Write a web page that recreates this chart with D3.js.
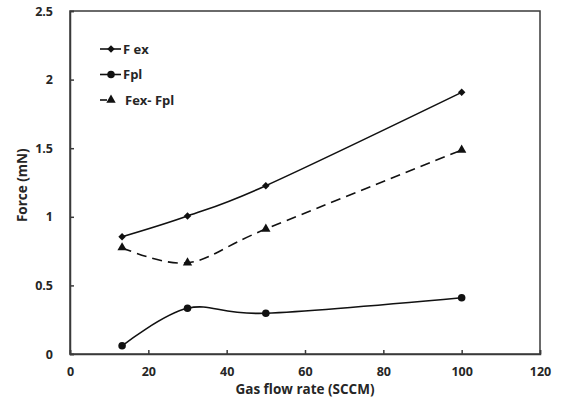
<!DOCTYPE html>
<html>
<head>
<meta charset="utf-8">
<script src="https://cdn.jsdelivr.net/npm/d3@7"></script>
<style>
  body { margin: 0; background: #fff; }
  text { font-family: "Open Sans", "Noto Sans", sans-serif; font-weight: bold; fill: #262626; }
</style>
</head>
<body>
<div id="chart"></div>
<script>
// Data
const flowRate = [13.3, 30, 50, 100];
const fex = [0.855, 1.006, 1.227, 1.907];
const fpl = [0.06, 0.333, 0.297, 0.41];
const fexFpl = [0.775, 0.665, 0.911, 1.487];

const xTicks = [0, 20, 40, 60, 80, 100, 120];
const yTicks = [0, 0.5, 1, 1.5, 2, 2.5];
const seriesNames = ["F ex", "Fpl", "Fex- Fpl"];

const W = 562, H = 404;
const margin = {top: 11, right: 22, bottom: 50, left: 70};
const width = W - margin.left - margin.right;
const height = H - margin.top - margin.bottom;

const svg = d3.select("#chart").append("svg")
    .attr("width", W)
    .attr("height", H);

const g = svg.append("g")
    .attr("transform", `translate(${margin.left},${margin.top})`);

const x = d3.scaleLinear().domain([0, 120]).range([0, width]);
const y = d3.scaleLinear().domain([0, 2.5]).range([height, 0]);

// Frame
g.append("rect")
    .attr("x", 0).attr("y", 0)
    .attr("width", width).attr("height", height)
    .attr("fill", "none")
    .attr("stroke", "#3a3a3a")
    .attr("stroke-width", 1.5);

// X axis, ticks pointing inward
const xAxis = g.append("g")
    .attr("transform", `translate(0,${height})`)
    .call(d3.axisBottom(x).tickValues(xTicks).tickSize(-4).tickPadding(13).tickFormat(d3.format("d")));
xAxis.select(".domain").attr("stroke", "#3a3a3a").attr("stroke-width", 1.5);
xAxis.selectAll(".tick line").attr("stroke", "#3a3a3a").attr("stroke-width", 1.5);
xAxis.selectAll("text").style("font-size", "12.5px").attr("fill", "#262626");

// Y axis, ticks pointing inward
const yAxis = g.append("g")
    .call(d3.axisLeft(y).tickValues(yTicks).tickSize(-4).tickPadding(17).tickFormat(d => d));
yAxis.select(".domain").attr("stroke", "#3a3a3a").attr("stroke-width", 1.5);
yAxis.selectAll(".tick line").attr("stroke", "#3a3a3a").attr("stroke-width", 1.5);
yAxis.selectAll("text").style("font-size", "12.5px").attr("fill", "#262626");

// Axis titles
svg.append("text")
    .attr("x", margin.left + x(60))
    .attr("y", 394)
    .attr("text-anchor", "middle")
    .style("font-size", "13.5px")
    .text("Gas flow rate (SCCM)");

svg.append("text")
    .attr("transform", `translate(27,${margin.top + y(1.23)}) rotate(-90)`)
    .attr("text-anchor", "middle")
    .style("font-size", "13.5px")
    .text("Force (mN)");

// Lines (Excel-style smoothing)
const line = d3.line()
    .x(d => x(d[0]))
    .y(d => y(d[1]))
    .curve(d3.curveCardinal.tension(0));

const series = [
    {name: seriesNames[0], values: fex, marker: d3.symbolSquare, size: 28, rot: 45, dash: null},
    {name: seriesNames[1], values: fpl, marker: d3.symbolCircle, size: 45, rot: 0, dash: null},
    {name: seriesNames[2], values: fexFpl, marker: d3.symbolTriangle, size: 38, rot: 0, dash: "10,6"}
];

series.forEach(s => {
    const pts = flowRate.map((f, i) => [f, s.values[i]]);
    g.append("path")
        .datum(pts)
        .attr("d", line)
        .attr("fill", "none")
        .attr("stroke", "#111")
        .attr("stroke-width", 1.6)
        .attr("stroke-dasharray", s.dash);
    g.selectAll(null)
        .data(pts)
        .enter()
        .append("path")
        .attr("d", d3.symbol().type(s.marker).size(s.size))
        .attr("transform", d => `translate(${x(d[0])},${y(d[1])}) rotate(${s.rot})`)
        .attr("fill", "#111");
});

// Legend
const legend = svg.append("g").attr("transform", "translate(100,49)");
series.forEach((s, i) => {
    const row = legend.append("g").attr("transform", `translate(0,${i * 25.5})`);
    row.append("line").attr("x1", 0).attr("x2", s.dash ? 7 : 21).attr("y1", 0).attr("y2", 0)
        .attr("stroke", "#111").attr("stroke-width", 1.6);
    row.append("path")
        .attr("d", d3.symbol().type(s.marker).size(s.size))
        .attr("transform", `translate(11,0) rotate(${s.rot})`)
        .attr("fill", "#111");
    row.append("text")
        .attr("x", s.dash ? 25 : 23)
        .attr("y", 0)
        .attr("dy", "0.35em")
        .style("font-size", "13px")
        .text(s.name);
});
</script>
</body>
</html>
